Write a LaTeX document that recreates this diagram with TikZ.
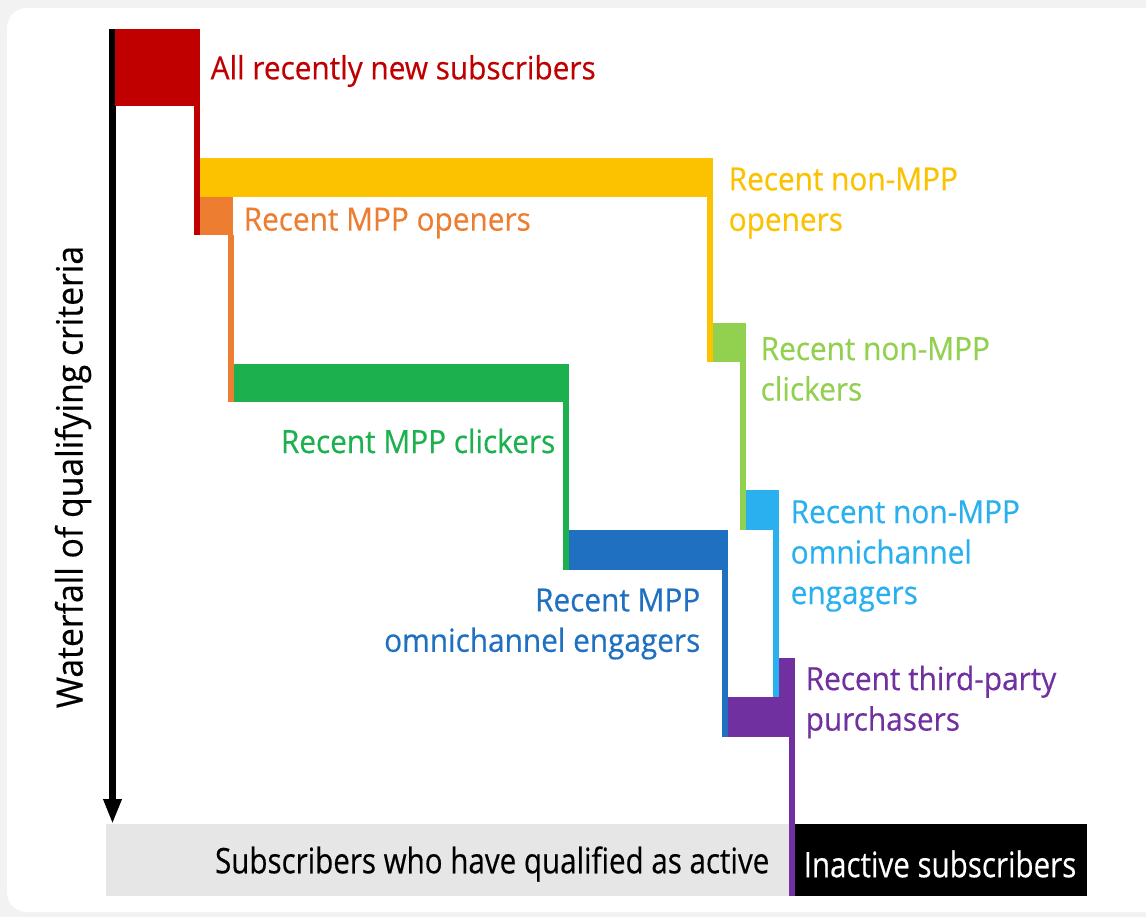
\documentclass[tikz,border=0pt]{standalone}
\usepackage{fontspec}
\setmainfont{Open Sans}[FakeStretch=0.93, FakeBold=0.4]
\newfontfamily\narrowfont{Open Sans}[FakeStretch=0.84, FakeBold=0.4]
\usetikzlibrary{positioning,arrows.meta}

\definecolor{stepred}{HTML}{C00000}
\definecolor{stepyellow}{HTML}{FCC200}
\definecolor{steporange}{HTML}{ED7D31}
\definecolor{stepgreen}{HTML}{1DB04F}
\definecolor{steplime}{HTML}{92D050}
\definecolor{stepblue}{HTML}{1F70C1}
\definecolor{stepsky}{HTML}{2BB0EF}
\definecolor{steppurple}{HTML}{7030A0}
\definecolor{activegray}{HTML}{E6E6E6}
\definecolor{pagegray}{HTML}{F2F2F2}

\tikzset{
    label/.style={inner sep=0pt, align=left, font=\fontsize{9.1}{11.5}\selectfont},
    footlabel/.style={inner sep=0pt, font=\narrowfont\fontsize{10}{12}\selectfont}
}

\begin{document}
\begin{tikzpicture}[x=0.01cm, y=-0.01cm]
                    \useasboundingbox (0, 0) rectangle (1146, 917);
                    % Card
                    \fill[pagegray] (0, 0) rectangle (1146, 917);
                    \fill[white, rounded corners=0.2cm] (7, 8) rectangle (1170, 912);
                    % Footer
                    \fill[activegray] (106, 824) rectangle (790, 896);
                    \fill[black] (790, 824) rectangle (1087, 896);
                    \node[footlabel, anchor=east] (active) at (770, 864) {Subscribers who have qualified as active};
                    \node[footlabel, anchor=west, text=white] (inactive) at (803, 864) {Inactive subscribers};
                    % Axis
                    \coordinate (top) at (112.5, 29);
                    \coordinate (bottom) at (112.5, 824);
                    \draw[line width=0.07cm, -{Triangle[width=0.17cm, length=0.25cm]}] (top) -- (bottom);
                    \node[label, rotate=90, font=\fontsize{10.3}{12}\selectfont] (axis) at (73, 477) {Waterfall of qualifying criteria};
                    % Steps
                    \fill[stepred] (115, 29) rectangle (200, 106);
                    \fill[stepred] (194, 106) rectangle (200, 235);
                    \fill[stepyellow] (200, 158) rectangle (713, 197);
                    \fill[stepyellow] (707, 197) rectangle (713, 362);
                    \fill[steporange] (200, 197) rectangle (233, 235);
                    \fill[steporange] (228, 235) rectangle (234, 402);
                    \fill[stepgreen] (234, 364) rectangle (569, 402);
                    \fill[stepgreen] (563, 402) rectangle (569, 570);
                    \fill[steplime] (713, 323) rectangle (746, 362);
                    \fill[steplime] (740, 362) rectangle (746, 530);
                    \fill[stepblue] (569, 530) rectangle (728, 570);
                    \fill[stepblue] (722, 570) rectangle (728, 737);
                    \fill[stepsky] (746, 490) rectangle (779, 530);
                    \fill[stepsky] (773, 530) rectangle (779, 697);
                    \fill[steppurple] (779, 658) rectangle (795, 697);
                    \fill[steppurple] (728, 697) rectangle (795, 737);
                    \fill[steppurple] (789, 737) rectangle (795, 896);
                    % Labels
                    \node[label, anchor=west, text=stepred] (allnew) at (210, 71) {All recently new subscribers};
                    \node[label, anchor=west, text=stepyellow] (nonmppopen) at (728, 203) {Recent non-MPP\\openers};
                    \node[label, anchor=west, text=steporange] (mppopen) at (243, 223) {Recent MPP openers};
                    \node[label, anchor=west, text=steplime] (nonmppclick) at (760, 369) {Recent non-MPP\\clickers};
                    \node[label, anchor=east, text=stepgreen] (mppclick) at (556, 441) {Recent MPP clickers};
                    \node[label, anchor=west, text=stepsky] (nonmppomni) at (790, 556) {Recent non-MPP\\omnichannel\\engagers};
                    \node[label, anchor=east, align=right, text=stepblue] (mppomni) at (701, 624) {Recent MPP\\omnichannel engagers};
                    \node[label, anchor=west, text=steppurple] (thirdparty) at (805, 702) {Recent third-party\\purchasers};
                \end{tikzpicture}
\end{document}
